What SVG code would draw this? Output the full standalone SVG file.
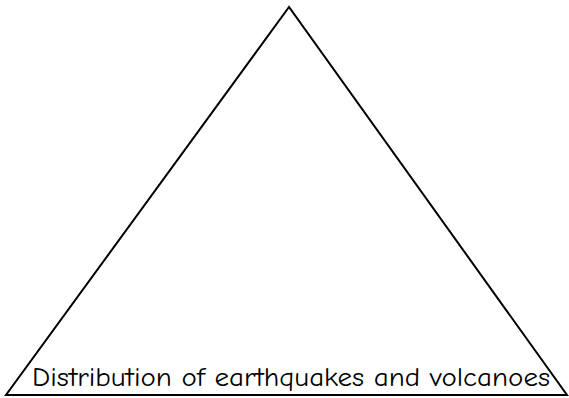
<svg xmlns="http://www.w3.org/2000/svg" width="569" height="398" viewBox="0 0 569 398">
<style>
.tri{fill:#fff;stroke:#000;stroke-width:2;stroke-linejoin:miter}
.lbl{font-family:"Comic Neue","Liberation Sans","DejaVu Sans",sans-serif;font-size:26px;fill:#000}
</style>
<rect width="569" height="398" fill="#fff"/>
<g id="triangle">
<polygon class="tri" points="289,7 6,395 567,395"/>
<text class="lbl" x="32" y="386" textLength="518" lengthAdjust="spacingAndGlyphs">Distribution of earthquakes and volcanoes</text>
</g>
<g id="connectors"/>
</svg>
